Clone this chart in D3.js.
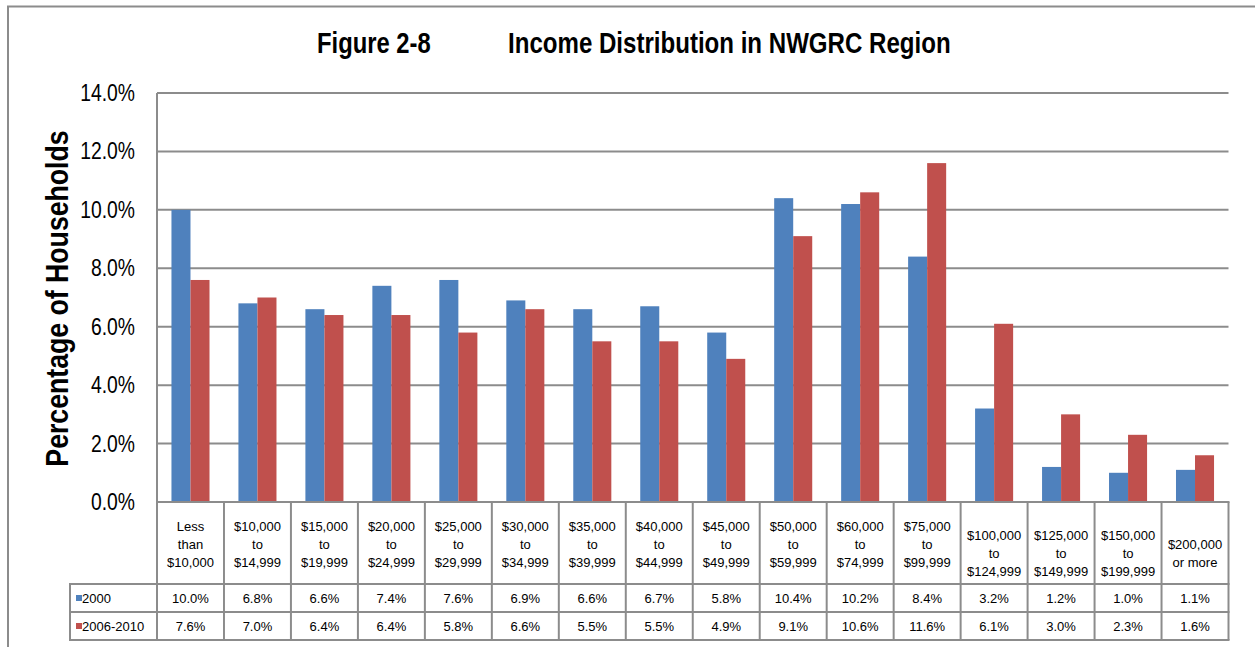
<!DOCTYPE html>
<html lang="en">
<head>
	<meta charset="UTF-8">
	<script src="https://d3js.org/d3.v7.min.js"></script>
	<title>Income Distribution in NWGRC Region</title>
	<style>
        body { margin: 0; background: #fff; }
        text { font-family: "Liberation Sans", Arial, sans-serif; fill: #000; }
        .grid line { stroke: #8c8c8c; stroke-width: 2px; }
        .table line { stroke: #8c8c8c; stroke-width: 2px; }
	</style>
</head>
<body>
<svg id="chart" width="1255" height="647"></svg>
<script>
	// category labels, one entry per line of the table header cell
	const categories = [
		["Less", "than", "$10,000"],
		["$10,000", "to", "$14,999"],
		["$15,000", "to", "$19,999"],
		["$20,000", "to", "$24,999"],
		["$25,000", "to", "$29,999"],
		["$30,000", "to", "$34,999"],
		["$35,000", "to", "$39,999"],
		["$40,000", "to", "$44,999"],
		["$45,000", "to", "$49,999"],
		["$50,000", "to", "$59,999"],
		["$60,000", "to", "$74,999"],
		["$75,000", "to", "$99,999"],
		["$100,000", "to", "$124,999"],
		["$125,000", "to", "$149,999"],
		["$150,000", "to", "$199,999"],
		["$200,000", "or more"]
	];
	const seriesNames = ["2000", "2006-2010"];
	const values2000 = [10.0, 6.8, 6.6, 7.4, 7.6, 6.9, 6.6, 6.7, 5.8, 10.4, 10.2, 8.4, 3.2, 1.2, 1.0, 1.1];
	const values2006 = [7.6, 7.0, 6.4, 6.4, 5.8, 6.6, 5.5, 5.5, 4.9, 9.1, 10.6, 11.6, 6.1, 3.0, 2.3, 1.6];
	const yTicks = [0, 2, 4, 6, 8, 10, 12, 14];
	const colors = ["#4f81bd", "#c0504d"];

	const svg = d3.select("#chart");

	// squeeze text horizontally, a stand-in for Arial Narrow
	function narrow(sel, f) {
		sel.each(function () {
			const w = this.getComputedTextLength();
			d3.select(this).attr("textLength", w * f).attr("lengthAdjust", "spacingAndGlyphs");
		});
	}

	const plotLeft = 157, plotRight = 1228.5, plotTop = 93, plotBottom = 502;
	const rowLabelBottom = 584, row1Bottom = 612, row2Bottom = 640, legendLeft = 70;

	const idx = d3.range(categories.length);
	const x0 = d3.scaleBand().domain(idx).range([plotLeft, plotRight]).padding(0);
	const x1 = d3.scaleBand().domain([0, 1]).range([0, x0.bandwidth()]).paddingInner(0).paddingOuter(0.76);
	const y = d3.scaleLinear().domain([0, 14]).range([plotBottom, plotTop]);

	// outer frame
	svg.append("path")
		.attr("d", "M8,647 L8,6.5 L1256,6.5")
		.attr("fill", "none")
		.attr("stroke", "#8c8c8c")
		.attr("stroke-width", 2);

	// title
	svg.append("text").attr("x", 317).attr("y", 53)
		.style("font-size", "29px").style("font-weight", "bold")
		.text("Figure 2-8").call(narrow, 0.82);
	svg.append("text").attr("x", 508).attr("y", 53)
		.style("font-size", "29px").style("font-weight", "bold")
		.text("Income Distribution in NWGRC Region").call(narrow, 0.83);

	// gridlines
	svg.append("g").attr("class", "grid")
		.selectAll("line")
		.data(yTicks)
		.join("line")
		.attr("x1", plotLeft).attr("x2", plotRight)
		.attr("y1", d => y(d)).attr("y2", d => y(d));

	// y tick labels
	svg.append("g")
		.selectAll("text")
		.data(yTicks)
		.join("text")
		.attr("x", 135)
		.attr("y", d => y(d) + 8)
		.attr("text-anchor", "end")
		.style("font-size", "23px")
		.text(d => d3.format(".1f")(d) + "%")
		.call(narrow, 0.84);

	// y axis title
	svg.append("text")
		.attr("transform", "translate(68," + ((plotTop + plotBottom) / 2 + 1) + ") rotate(-90)")
		.attr("text-anchor", "middle")
		.style("font-size", "31px").style("font-weight", "bold")
		.text("Percentage of Households")
		.call(narrow, 0.86);

	// bars
	const series = [values2000, values2006];
	series.forEach((vals, s) => {
		svg.append("g")
			.selectAll("rect")
			.data(vals)
			.join("rect")
			.attr("x", (d, i) => x0(i) + x1(s))
			.attr("width", x1.bandwidth())
			.attr("y", d => y(d))
			.attr("height", d => y(0) - y(d))
			.attr("fill", colors[s]);
	});

	// data table
	const table = svg.append("g").attr("class", "table");
	const hLines = [
		{y: plotBottom, x1: plotLeft, x2: plotRight},
		{y: rowLabelBottom, x1: legendLeft, x2: plotRight},
		{y: row1Bottom, x1: legendLeft, x2: plotRight},
		{y: row2Bottom, x1: legendLeft, x2: plotRight}
	];
	table.selectAll("line.h")
		.data(hLines)
		.join("line")
		.attr("class", "h")
		.attr("x1", d => d.x1 - 1).attr("x2", d => d.x2 + 1)
		.attr("y1", d => d.y).attr("y2", d => d.y);
	table.selectAll("line.v")
		.data(d3.range(categories.length + 1))
		.join("line")
		.attr("class", "v")
		.attr("x1", i => i < categories.length ? x0(i) : plotRight)
		.attr("x2", i => i < categories.length ? x0(i) : plotRight)
		.attr("y1", i => i === 0 ? plotTop : plotBottom)
		.attr("y2", row2Bottom);
	table.append("line")
		.attr("x1", legendLeft).attr("x2", legendLeft)
		.attr("y1", rowLabelBottom).attr("y2", row2Bottom);

	// category labels
	categories.forEach((lines, i) => {
		const shift = (lines[0].length > 7 ? 9 : 0) + (3 - lines.length) * 9;
		svg.append("text")
			.attr("text-anchor", "middle")
			.style("font-size", "13px")
			.selectAll("tspan")
			.data(lines)
			.join("tspan")
			.attr("x", x0(i) + x0.bandwidth() / 2)
			.attr("y", (d, k) => 531 + shift + k * 18)
			.text(d => d);
	});

	// value rows
	const rowBase = [603, 631];
	series.forEach((vals, s) => {
		svg.append("g")
			.selectAll("text")
			.data(vals)
			.join("text")
			.attr("x", (d, i) => x0(i) + x0.bandwidth() / 2)
			.attr("y", rowBase[s])
			.attr("text-anchor", "middle")
			.style("font-size", "13px")
			.text(d => d.toFixed(1) + "%");

		svg.append("rect")
			.attr("x", 76).attr("y", rowBase[s] - 8)
			.attr("width", 6).attr("height", 6)
			.attr("fill", colors[s]);
		svg.append("text")
			.attr("x", 82).attr("y", rowBase[s])
			.style("font-size", "13px")
			.text(seriesNames[s]);
	});
</script>
</body>
</html>
